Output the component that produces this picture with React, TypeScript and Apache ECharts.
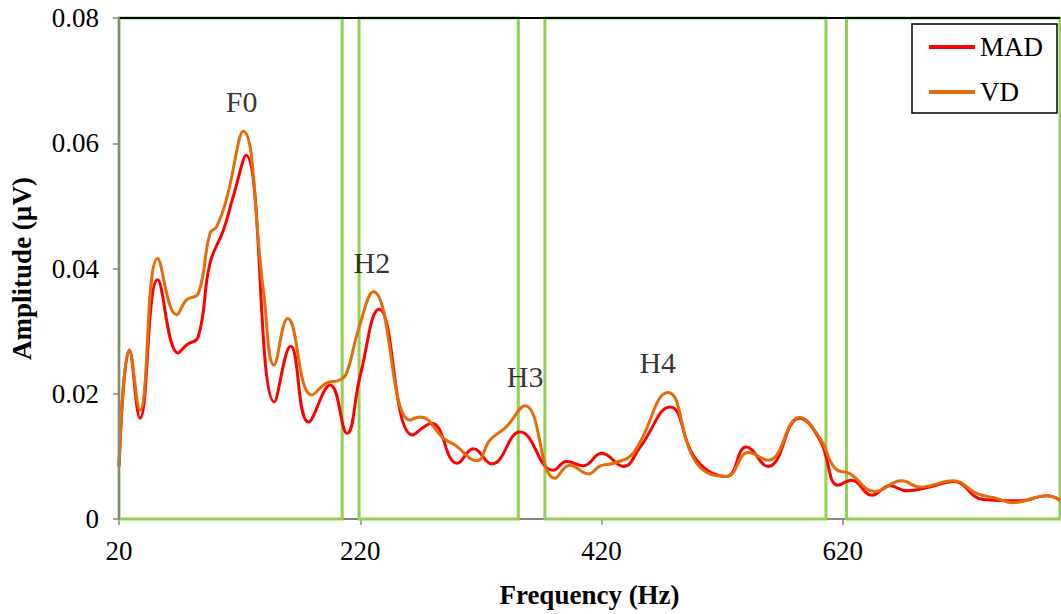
import React, { useEffect, useRef } from "react";
import * as echarts from "echarts";

// Frequency (Hz) and amplitude (µV)
const madFreq = [20, 28.6, 37.4, 52, 69, 76, 85.7, 95.4, 106.5, 114.7, 125.3, 148.8, 162.3, 177, 195, 209, 219.7, 235.5, 263.4, 279, 300.4, 313.7, 329, 352.4, 380, 391, 405, 420, 438, 452, 476.7, 498.8, 523.6, 540, 558, 584, 601, 616.2, 627.3, 644, 659, 672.9, 692, 711.6, 736.5, 766.8, 789, 800];
const madAmp = [0.0085, 0.027, 0.0161, 0.0382, 0.0265, 0.0278, 0.0291, 0.0408, 0.0461, 0.0515, 0.0581, 0.0187, 0.0276, 0.0155, 0.0214, 0.0137, 0.0227, 0.0335, 0.0134, 0.0153, 0.0089, 0.0112, 0.0088, 0.0139, 0.0078, 0.0092, 0.0085, 0.0105, 0.0084, 0.0115, 0.0179, 0.0094, 0.0068, 0.0115, 0.0084, 0.0161, 0.0126, 0.0054, 0.0062, 0.0038, 0.0053, 0.0045, 0.0051, 0.006, 0.0031, 0.0029, 0.0037, 0.003];

const vdFreq = [20, 28.6, 37.4, 52, 67.8, 76, 85.7, 95.4, 101, 109, 123, 139.6, 148.5, 159.8, 179.7, 192, 203, 208.7, 218.4, 230.8, 261, 269.5, 289, 298.5, 316.5, 327.5, 341, 356.5, 381.4, 393.8, 409, 419, 430, 446.5, 475, 498.8, 523.6, 541.7, 558, 584, 601, 613.5, 626, 646.6, 668.7, 684, 711.6, 730.8, 747.4, 761, 789, 800];
const vdAmp = [0.0083, 0.027, 0.0174, 0.0416, 0.0326, 0.035, 0.036, 0.0456, 0.0467, 0.051, 0.0619, 0.0366, 0.0246, 0.032, 0.0198, 0.0217, 0.0222, 0.0233, 0.0302, 0.0363, 0.0158, 0.0163, 0.0129, 0.0118, 0.0093, 0.0126, 0.0147, 0.0181, 0.0065, 0.0086, 0.0072, 0.0085, 0.0089, 0.0106, 0.0202, 0.0089, 0.0068, 0.0106, 0.0094, 0.0162, 0.0129, 0.0081, 0.0072, 0.0044, 0.0061, 0.0051, 0.0061, 0.0041, 0.0033, 0.0026, 0.0037, 0.003];

// Harmonic band boxes (Hz)
const bandStart = [20, 219, 373, 623];
const bandEnd = [205, 351, 606, 800];

// Peak annotations
const annoLabels = ["F0", "H2", "H3", "H4"];
const annoFreq = [122, 230, 357, 467];
const annoAmp = [0.0666, 0.0409, 0.0227, 0.0249];

const xTicks = [20, 220, 420, 620];
const X0 = xTicks[0]; // axis offset so ticks fall at 20, 220, 420, 620
const xMaxHz = 800;

const FONT = "'Liberation Serif', 'Times New Roman', serif";

export default function App() {
  const ref = useRef<HTMLDivElement>(null);

  useEffect(() => {
    if (!ref.current) return;
    const chart = echarts.init(ref.current, undefined, { renderer: "svg" });

    const toPairs = (f: number[], a: number[]) => f.map((v, i) => [v - X0, a[i]]);

    chart.setOption({
      animation: false,
      textStyle: { fontFamily: FONT, color: "#000" },
      grid: { left: 119, right: 1, top: 18, bottom: 95 },
      legend: {
        data: ["MAD", "VD"],
        orient: "vertical",
        right: 4,
        top: 24,
        icon: "rect",
        itemWidth: 46,
        itemHeight: 4,
        itemGap: 15,
        padding: [8, 14, 6, 17],
        borderColor: "#000",
        borderWidth: 1.5,
        backgroundColor: "#fff",
        textStyle: { fontFamily: FONT, fontSize: 27, color: "#000", lineHeight: 30 },
      },
      xAxis: {
        type: "value",
        min: 0,
        max: xMaxHz - X0,
        interval: 200,
        name: "Frequency (Hz)",
        nameLocation: "middle",
        nameGap: 62,
        nameTextStyle: { fontFamily: FONT, fontSize: 27, fontWeight: "bold", color: "#000" },
        axisLine: { lineStyle: { color: "#868686", width: 2 } },
        axisTick: { show: true, length: 6, lineStyle: { color: "#868686", width: 1.5 } },
        axisLabel: {
          fontFamily: FONT,
          fontSize: 27,
          color: "#000",
          margin: 18,
          showMaxLabel: false,
          formatter: (v: number) => String(v + X0),
        },
        splitLine: { show: false },
      },
      yAxis: {
        type: "value",
        min: 0,
        max: 0.08,
        interval: 0.02,
        z: 5,
        name: "Amplitude (µV)",
        nameLocation: "middle",
        nameGap: 84,
        nameTextStyle: { fontFamily: FONT, fontSize: 27, fontWeight: "bold", color: "#000" },
        axisLine: { show: true, lineStyle: { color: "#868686", width: 2 } },
        axisTick: { show: true, length: 6, lineStyle: { color: "#868686", width: 1.5 } },
        axisLabel: { fontFamily: FONT, fontSize: 27, color: "#000", margin: 20 },
        splitLine: { show: false },
      },
      series: [
        {
          name: "MAD",
          type: "line",
          data: toPairs(madFreq, madAmp),
          smooth: 0.45,
          symbol: "none",
          lineStyle: { color: "#FF0000", width: 3 },
          itemStyle: { color: "#FF0000" },
          markArea: {
            silent: true,
            itemStyle: { color: "rgba(0,0,0,0)", borderColor: "#92D050", borderWidth: 3 },
            data: bandStart.map((s, i) => [{ xAxis: s - X0 }, { xAxis: bandEnd[i] - X0 }]),
          },
        },
        {
          name: "VD",
          type: "line",
          data: toPairs(vdFreq, vdAmp),
          smooth: 0.45,
          symbol: "none",
          lineStyle: { color: "#E46C0A", width: 3 },
          itemStyle: { color: "#E46C0A" },
          markLine: {
            silent: true,
            symbol: "none",
            label: { show: false },
            lineStyle: { color: "#000", width: 2, type: "solid" },
            data: [{ yAxis: 0.08 }],
          },
        },
        {
          name: "annotations",
          type: "scatter",
          symbolSize: 1,
          itemStyle: { color: "rgba(0,0,0,0)" },
          data: annoLabels.map((n, i) => ({ name: n, value: [annoFreq[i] - X0, annoAmp[i]] })),
          label: {
            show: true,
            position: [0, 0],
            align: "center",
            verticalAlign: "middle",
            formatter: (p: any) => p.name,
            fontFamily: FONT,
            fontSize: 30,
            color: "#000",
            textBorderWidth: 0,
          },
        },
      ],
    });

    return () => chart.dispose();
  }, []);

  return (
    <div
      ref={ref}
      style={{ position: "absolute", left: 0, top: 0, width: 1061, height: 614 }}
    />
  );
}
